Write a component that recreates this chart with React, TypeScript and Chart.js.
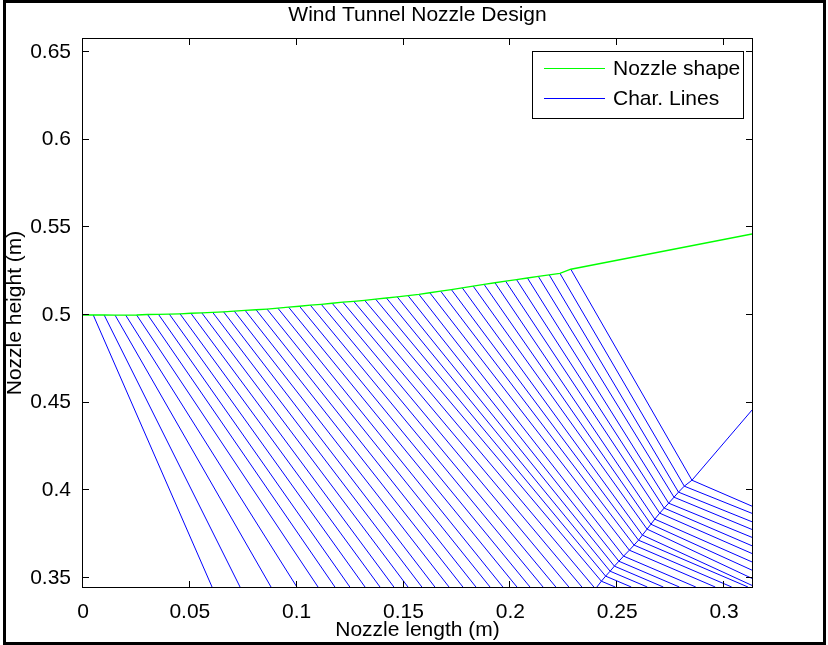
import React, { useEffect, useRef } from "react";
import { Chart, registerables } from "chart.js";

Chart.register(...registerables);

// ---------- text ----------
const TITLE = "Wind Tunnel Nozzle Design";
const X_LABEL = "Nozzle length (m)";
const Y_LABEL = "Nozzle height (m)";
const LEGEND_LABELS = ["Nozzle shape", "Char. Lines"];
const COLORS = ["#00ff00", "#0000ff"];

// ---------- axes ----------
const X_MIN = 0;
const X_MAX = 0.3131;
const Y_MIN = 0.3449;
const Y_MAX = 0.6574;
const X_TICKS = [0, 0.05, 0.1, 0.15, 0.2, 0.25, 0.3];
const X_TICK_LABELS = ["0", "0.05", "0.1", "0.15", "0.2", "0.25", "0.3"];
const Y_TICKS = [0.35, 0.4, 0.45, 0.5, 0.55, 0.6, 0.65];
const Y_TICK_LABELS = ["0.35", "0.4", "0.45", "0.5", "0.55", "0.6", "0.65"];

// ---------- nozzle wall (green) ----------
const nozzleX = [
  0, 0.0048, 0.0099, 0.015, 0.02, 0.0251, 0.0302, 0.0353, 0.0404, 0.0454, 0.0505,
  0.0556, 0.0607, 0.0658, 0.0708, 0.0759, 0.081, 0.0861, 0.0912, 0.0962, 0.1013,
  0.1064, 0.1115, 0.1166, 0.1216, 0.1267, 0.1318, 0.1369, 0.142, 0.147, 0.1521,
  0.1572, 0.1623, 0.1674, 0.1724, 0.1775, 0.1826, 0.1877, 0.1928, 0.1978, 0.2029,
  0.208, 0.2131, 0.2182, 0.2232, 0.2283, 0.3131,
];
const nozzleY = [
  0.5, 0.5, 0.5, 0.4999, 0.4999, 0.5, 0.5003, 0.5004, 0.5005, 0.5007, 0.501,
  0.5012, 0.5015, 0.5018, 0.5022, 0.5026, 0.503, 0.5034, 0.5039, 0.5045, 0.505,
  0.5056, 0.5061, 0.5067, 0.5073, 0.5078, 0.5084, 0.5091, 0.5097, 0.5104, 0.5111,
  0.5118, 0.5127, 0.5136, 0.5145, 0.5155, 0.5165, 0.5175, 0.5184, 0.5193, 0.5202,
  0.5211, 0.522, 0.5229, 0.5238, 0.5261, 0.5462,
];

// ---------- characteristic lines (blue) ----------
// each line starts on a wall point (nozzle points 1..45) and runs to a "knee":
// either the bottom of the view or the reflected characteristic
const kneeX = [
  0.0604, 0.0735, 0.088, 0.1001, 0.11, 0.1179, 0.1249, 0.132, 0.139, 0.1455,
  0.1521, 0.1586, 0.1647, 0.1713, 0.1778, 0.1839, 0.1905, 0.1965, 0.2031, 0.2092,
  0.2153, 0.2213, 0.2274, 0.2335, 0.2391,
  0.2426, 0.2446, 0.2467, 0.2487, 0.2508, 0.253, 0.2557, 0.2579, 0.26, 0.2618,
  0.264, 0.2658, 0.2676, 0.2699, 0.272, 0.2741, 0.2766, 0.2787, 0.2814, 0.285,
];
const kneeY = [
  0.3449, 0.3449, 0.3449, 0.3449, 0.3449, 0.3449, 0.3449, 0.3449, 0.3449, 0.3449,
  0.3449, 0.3449, 0.3449, 0.3449, 0.3449, 0.3449, 0.3449, 0.3449, 0.3449, 0.3449,
  0.3449, 0.3449, 0.3449, 0.3449, 0.3449,
  0.3482, 0.3511, 0.3539, 0.3568, 0.3596, 0.3625, 0.3659, 0.3688, 0.3716, 0.3745,
  0.3779, 0.3807, 0.3836, 0.387, 0.3899, 0.3927, 0.3961, 0.399, 0.4024, 0.4058,
];
// lines that cross the reflected characteristic bend and continue to these points
const exitX = [
  0.2491, 0.2566, 0.2641, 0.2716, 0.2791, 0.2868, 0.2959, 0.3036, 0.3112, 0.3131,
  0.3131, 0.3131, 0.3131, 0.3131, 0.3131, 0.3131, 0.3131, 0.3131, 0.3131, 0.3131,
];
const exitY = [
  0.3449, 0.3449, 0.3449, 0.3449, 0.3449, 0.3449, 0.3449, 0.3449, 0.3449, 0.3458,
  0.3498, 0.3545, 0.3592, 0.364, 0.3684, 0.3732, 0.3777, 0.3821, 0.3869, 0.391,
];
// reflected characteristic: start and end (it passes through the knees above)
const reflX = [0.2405, 0.3131];
const reflY = [0.3449, 0.4458];

const FONT = "'Liberation Sans', Arial, Helvetica, sans-serif";
const FONT_SIZE = 21;

const frameAndLegend = {
  id: "frameAndLegend",
  afterDraw(chart: any) {
    const { ctx, chartArea } = chart;
    const { left, right, top, bottom } = chartArea;
    const xs = chart.scales.x;
    const ys = chart.scales.y;
    ctx.save();
    // box
    ctx.strokeStyle = "#000";
    ctx.lineWidth = 1;
    ctx.strokeRect(left - 0.5, top - 0.5, right - left + 1, bottom - top + 1);
    // inward ticks
    const tl = 6;
    ctx.beginPath();
    X_TICKS.forEach((v) => {
      const p = Math.round(xs.getPixelForValue(v)) - 0.5;
      ctx.moveTo(p, bottom);
      ctx.lineTo(p, bottom - tl);
      ctx.moveTo(p, top);
      ctx.lineTo(p, top + tl);
    });
    Y_TICKS.forEach((v) => {
      const p = Math.round(ys.getPixelForValue(v)) - 0.5;
      ctx.moveTo(left, p);
      ctx.lineTo(left + tl, p);
      ctx.moveTo(right, p);
      ctx.lineTo(right - tl, p);
    });
    ctx.stroke();

    // title
    ctx.fillStyle = "#000";
    ctx.font = `${FONT_SIZE}px ${FONT}`;
    ctx.textAlign = "center";
    ctx.textBaseline = "middle";
    ctx.fillText(TITLE, (left + right) / 2, 15);

    // legend
    const lx = 532.5;
    const ly = 51.5;
    const lw = 211;
    const lh = 67;
    ctx.fillStyle = "#fff";
    ctx.fillRect(lx, ly, lw, lh);
    ctx.strokeStyle = "#000";
    ctx.strokeRect(lx, ly, lw, lh);
    LEGEND_LABELS.forEach((label, i) => {
      const y = 68.5 + i * 30;
      ctx.strokeStyle = COLORS[i];
      ctx.beginPath();
      ctx.moveTo(544, y);
      ctx.lineTo(605, y);
      ctx.stroke();
      ctx.fillStyle = "#000";
      ctx.textAlign = "left";
      ctx.fillText(label, 613, y + 1);
    });
    ctx.restore();
  },
};

export default function App() {
  const ref = useRef<HTMLCanvasElement | null>(null);

  useEffect(() => {
    if (!ref.current) return;
    const datasets: any[] = [];
    datasets.push({
      label: LEGEND_LABELS[0],
      data: nozzleX.map((x, i) => ({ x, y: nozzleY[i] })),
      borderColor: COLORS[0],
      borderWidth: 1.3,
    });
    const nBent = exitX.length;
    const nLines = kneeX.length;
    for (let i = 0; i < nLines; i++) {
      const pts = [
        { x: nozzleX[i + 1], y: nozzleY[i + 1] },
        { x: kneeX[i], y: kneeY[i] },
      ];
      const b = i - (nLines - nBent);
      if (b >= 0) pts.push({ x: exitX[b], y: exitY[b] });
      datasets.push({
        label: LEGEND_LABELS[1],
        data: pts,
        borderColor: COLORS[1],
        borderWidth: 1,
      });
    }
    const refl = [{ x: reflX[0], y: reflY[0] }];
    for (let i = nLines - nBent; i < nLines; i++) refl.push({ x: kneeX[i], y: kneeY[i] });
    refl.push({ x: reflX[1], y: reflY[1] });
    datasets.push({
      label: LEGEND_LABELS[1],
      data: refl,
      borderColor: COLORS[1],
      borderWidth: 1,
    });

    const font = { family: FONT, size: FONT_SIZE };
    const chart = new Chart(ref.current, {
      type: "scatter",
      data: { datasets },
      options: {
        responsive: false,
        animation: false,
        showLine: true,
        elements: { point: { radius: 0, hoverRadius: 0 }, line: { tension: 0 } },
        layout: { padding: { left: 0, top: 39, right: 76, bottom: 0 } },
        plugins: {
          legend: { display: false },
          title: { display: false },
          tooltip: { enabled: false },
        },
        scales: {
          x: {
            type: "linear",
            min: X_MIN,
            max: X_MAX,
            afterBuildTicks: (s: any) => {
              s.ticks = X_TICKS.map((v) => ({ value: v }));
            },
            afterFit: (s: any) => {
              s.height = 58;
            },
            ticks: {
              callback: (_v: any, i: number) => X_TICK_LABELS[i],
              font,
              color: "#000",
              padding: 5,
              maxRotation: 0,
              autoSkip: false,
            },
            grid: { display: false },
            border: { display: false },
            title: {
              display: true,
              text: X_LABEL,
              font,
              color: "#000",
              padding: { top: 0, bottom: 2 },
            },
          },
          y: {
            type: "linear",
            min: Y_MIN,
            max: Y_MAX,
            afterBuildTicks: (s: any) => {
              s.ticks = Y_TICKS.map((v) => ({ value: v }));
            },
            afterFit: (s: any) => {
              s.width = 83;
            },
            ticks: {
              callback: (_v: any, i: number) => Y_TICK_LABELS[i],
              font,
              color: "#000",
              padding: 4,
              autoSkip: false,
            },
            grid: { display: false },
            border: { display: false },
            title: {
              display: true,
              text: Y_LABEL,
              font,
              color: "#000",
              padding: { top: 3, bottom: 0 },
            },
          },
        },
      },
      plugins: [frameAndLegend],
    } as any);
    return () => chart.destroy();
  }, []);

  return (
    <div
      style={{
        position: "fixed",
        left: 0,
        top: 0,
        width: 828,
        height: 645,
        background: "#fff",
      }}
    >
      <canvas ref={ref} width={828} height={645} style={{ display: "block" }} />
      <div
        style={{
          position: "absolute",
          left: 3,
          top: 0,
          width: 817,
          height: 639,
          border: "3px solid #000",
          pointerEvents: "none",
        }}
      />
    </div>
  );
}
